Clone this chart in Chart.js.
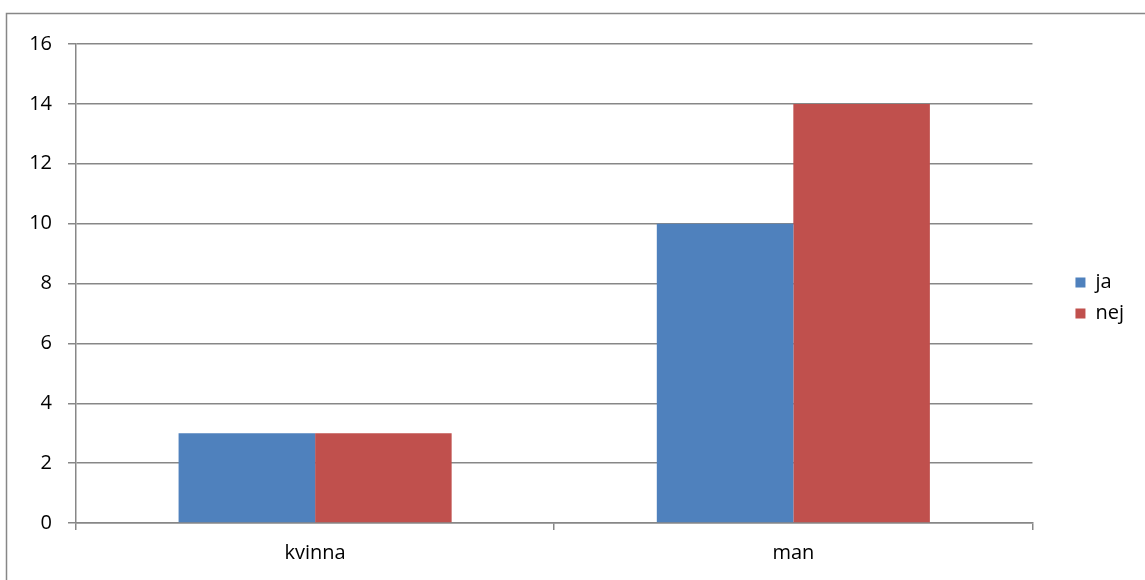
<!DOCTYPE html>
<html>
<head>
<meta charset="utf-8">
<script src="https://cdn.jsdelivr.net/npm/chart.js@4"></script>
<style>
  html, body { margin: 0; padding: 0; background: #fff; }
  #wrap { width: 1145px; height: 580px; }
</style>
</head>
<body>
<div id="wrap"><canvas id="chart" width="1145" height="580"></canvas></div>
<script>
// --- data ---
const categories = ["kvinna", "man"];
const jaValues = [3, 10];
const nejValues = [3, 14];
const yTicks = [0, 2, 4, 6, 8, 10, 12, 14, 16];

const FONT = "'Open Sans', Lato, sans-serif";
const GRID = "#878787";

// outer frame (only left + top edges show in the picture)
const framePlugin = {
  id: "frame",
  beforeDraw(chart) {
    const c = chart.ctx;
    c.save();
    c.strokeStyle = GRID;
    c.lineWidth = 1.5;
    c.beginPath();
    c.moveTo(6.5, 600);
    c.lineTo(6.5, 13.5);
    c.lineTo(1145, 13.5);
    c.stroke();
    c.restore();
  }
};

new Chart(document.getElementById("chart").getContext("2d"), {
  type: "bar",
  data: {
    labels: categories,
    datasets: [
      { label: "ja", data: jaValues, backgroundColor: "#4F81BD", borderWidth: 0 },
      { label: "nej", data: nejValues, backgroundColor: "#C0504D", borderWidth: 0 }
    ]
  },
  options: {
    responsive: false,
    animation: false,
    devicePixelRatio: 1,
    categoryPercentage: 0.571,
    barPercentage: 1,
    layout: { padding: { left: 0, top: 16, bottom: 0, right: 11 } },
    plugins: {
      tooltip: { enabled: false },
      legend: {
        position: "right",
        labels: {
          color: "#000",
          font: { family: FONT, size: 20 },
          boxWidth: 10,
          boxHeight: 10,
          padding: 11
        }
      }
    },
    scales: {
      x: {
        offset: true,
        grid: { offset: true, drawOnChartArea: false, drawTicks: true, tickLength: 7, color: GRID, lineWidth: 1.5 },
        border: { color: GRID, width: 1.5 },
        ticks: { color: "#000", font: { family: FONT, size: 20 }, padding: 11 },
        afterFit(s) { s.height = 57; }
      },
      y: {
        min: 0,
        max: 16,
        afterBuildTicks(s) { s.ticks = yTicks.map(v => ({ value: v })); },
        grid: { color: GRID, lineWidth: 1.5, tickLength: 8 },
        border: { color: GRID, width: 1.5 },
        ticks: { color: "#000", font: { family: FONT, size: 20 }, padding: 16 },
        afterFit(s) { s.width = 76; }
      },
      // empty spacers: one above the plot, one between plot and legend
      top: {
        type: "linear",
        position: "top",
        display: true,
        grid: { display: false, drawTicks: false },
        border: { display: false },
        ticks: { display: false },
        afterFit(s) { s.height = 28; }
      },
      gap: {
        type: "linear",
        position: "right",
        display: true,
        grid: { display: false, drawTicks: false },
        border: { display: false },
        ticks: { display: false },
        afterFit(s) { s.width = 32; }
      }
    }
  },
  plugins: [framePlugin]
});
</script>
</body>
</html>
